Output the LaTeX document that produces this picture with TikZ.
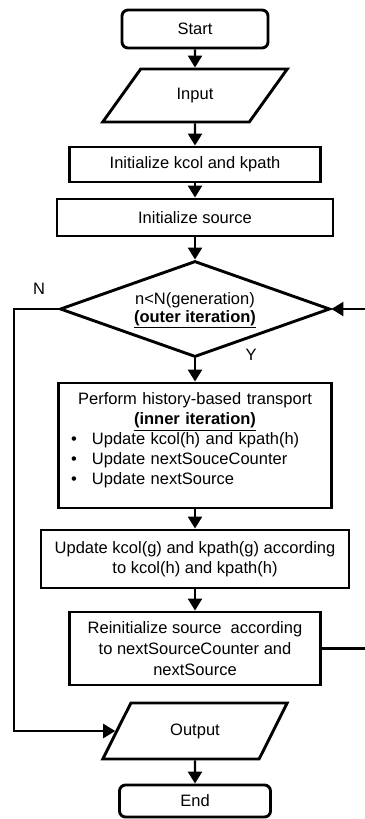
\documentclass[tikz,border=0pt]{standalone}
\usepackage{fontspec}
\setmainfont{Liberation Sans}
\usetikzlibrary{shapes.geometric,arrows.meta}
\begin{document}
\begin{tikzpicture}[x=1pt,y=-1pt,
  txt/.style={font=\fontsize{16.5}{20}\selectfont, align=center},
  base/.style={txt, draw, line width=2.9pt, inner sep=0pt},
  box/.style={base, rectangle},
  term/.style={base, rounded corners=6pt},
  io/.style={base, trapezium, trapezium stretches=true},
  arr/.style={line width=2.4pt, -{Triangle[length=12pt,width=14pt]}},
  ln/.style={line width=2.4pt}]
\useasboundingbox (0,0) rectangle (364,819);
\node[term, minimum width=146pt, minimum height=38pt] (start) at (195,29) {Start};
\node[io, trapezium left angle=49, trapezium right angle=131, minimum width=185pt, minimum height=53pt] (input) at (195,95.5) {Input};
\node[box, minimum width=251pt, minimum height=35pt] (initk) at (195,164.5) {Initialize kcol and kpath};
\node[box, minimum width=276pt, minimum height=37pt] (inits) at (195,217.5) {Initialize source};
\node[base, diamond, minimum width=270pt, minimum height=96pt] (dia) at (195,309) {};
\node[txt, inner sep=0pt] (diatext) at (195,310) {n<N(generation)\\[-2pt]\underline{\textbf{(outer iteration)}}};
\node[box, align=left, text width=258pt, inner xsep=7.5pt, minimum height=125pt] (hist) at (195,445.5)
 {\makebox[258pt]{Perform history-based transport}\\
  \makebox[258pt]{\underline{\textbf{(inner iteration)}}}\\
  \makebox[26pt][l]{\hspace{5pt}\textbullet}Update kcol(h) and kpath(h)\\
  \makebox[26pt][l]{\hspace{5pt}\textbullet}Update nextSouceCounter\\
  \makebox[26pt][l]{\hspace{5pt}\textbullet}Update nextSource\rule[-13pt]{0pt}{13pt}};
\node[box, minimum width=308pt, minimum height=58pt] (upd) at (195,559) {Update kcol(g) and kpath(g) according\\to kcol(h) and kpath(h)};
\node[box, minimum width=251pt, minimum height=73pt] (reinit) at (195,648.5) {Reinitialize source~ according\\[1pt]to nextSourceCounter and\\[1pt]nextSource};
\node[io, trapezium left angle=54, trapezium right angle=126, minimum width=185pt, minimum height=56pt] (output) at (195,731) {Output};
\node[term, minimum width=151pt, minimum height=32pt] (end) at (195,801) {End};
\node[txt] (nlab) at (39,289) {N};
\node[txt] (ylab) at (251,355) {Y};
\coordinate (lc) at (14,309);
\coordinate (rc) at (367,648.5);
\draw[arr] (start) -- (input);
\draw[arr] (input) -- (initk);
\draw[arr] (initk) -- (inits);
\draw[arr] (inits) -- (dia.north);
\draw[arr] (dia.south) -- (hist);
\draw[arr] (hist) -- (upd);
\draw[arr] (upd) -- (reinit);
\draw[arr] (output) -- (end);
\draw[arr] (dia.west) -- (lc) |- (output);
\draw[arr] (reinit.east) -- (rc) |- (dia.east);
\end{tikzpicture}
\end{document}
